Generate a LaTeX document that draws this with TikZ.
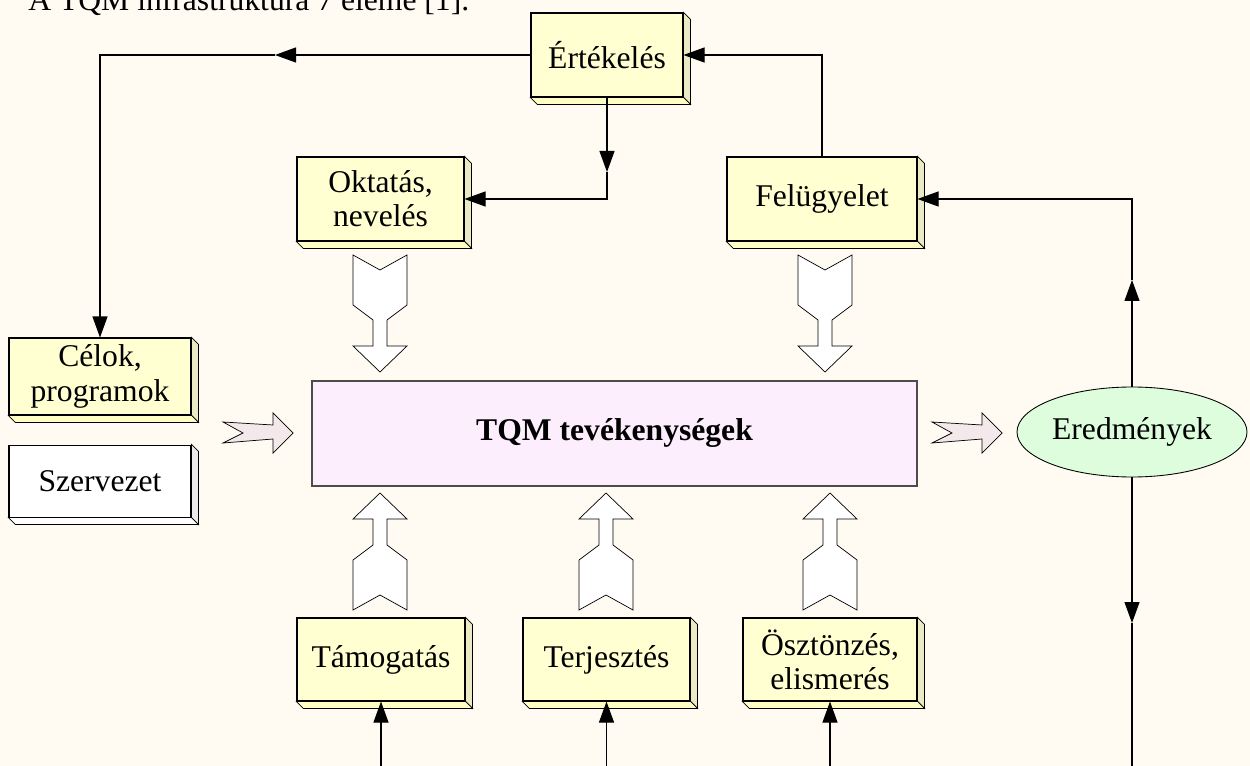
\documentclass[tikz,border=0pt]{standalone}
\usepackage{fontspec}
\setmainfont{Liberation Serif}
\usepackage{tikz}
\usetikzlibrary{positioning,calc,arrows.meta,shapes.geometric}

\newlength{\pxl}
\setlength{\pxl}{0.02cm}

\definecolor{bgcream}{HTML}{FFFAF2}
\definecolor{boxyellow}{HTML}{FFFFD2}
\definecolor{sideyellow}{HTML}{EAEAC4}
\definecolor{baseyellow}{HTML}{FFFFC4}
\definecolor{tqmpink}{HTML}{FCEEFC}
\definecolor{resgreen}{HTML}{DDFDDD}
\definecolor{chevpink}{HTML}{F3E9EA}

% side and bottom faces of a box node
\newcommand{\boxdepth}[3]{%
  \filldraw[fill=#2, draw=black, line width=0.4pt] (#1.north east) -- ++(7,7) -- ($(#1.south east)+(7,7)$) -- (#1.south east) -- cycle;
  \filldraw[fill=#3, draw=black, line width=0.4pt] (#1.south west) -- ++(7,7) -- ($(#1.south east)+(7,7)$) -- (#1.south east) -- cycle;}

% hollow arrow with a notched tail
\newcommand{\fatarrow}[3]{%
  \filldraw[fill=white, draw=black, line width=0.4pt, shift={(#1,#2)}, rotate=#3]
    (-27,0) -- (0,15) -- (27,0) -- (27,50) -- (7,65) -- (7,91) -- (27,91) -- (0,117)
    -- (-27,91) -- (-7,91) -- (-7,65) -- (-27,50) -- cycle;}

% flat arrow pointing right
\newcommand{\flatarrow}[2]{%
  \filldraw[fill=chevpink, draw=black, line width=0.4pt, shift={(#1,#2)}]
    (0,-11) -- (20,0) -- (0,10) -- (50,6) -- (50,20) -- (70,0) -- (50,-20) -- (50,-8) -- cycle;}

\begin{document}
\begin{tikzpicture}[x=0.02cm, y=-0.02cm]

\tikzstyle{every node}=[font=\fontsize{18}{19.5}\selectfont]
\tikzstyle{box}=[draw, fill=boxyellow, line width=0.6pt, inner sep=0pt, align=center]
\tikzstyle{line}=[line width=0.6pt]
\tikzstyle{tri}=[line width=0.6pt, -{Triangle[length=0.42cm, width=0.3cm]}]

\fill[bgcream] (0,0) rectangle (1250,766);
\useasboundingbox (0,0) rectangle (1250,766);

% title %
\node[anchor=base west, inner sep=0pt] (title) at (28,11) {A TQM infrastruktúra 7 eleme [1].};

% nodes %
\node[box, minimum width=152\pxl, minimum height=84\pxl] (ert) at (607,55) {Értékelés};
\node[box, minimum width=167\pxl, minimum height=84\pxl] (okt) at (380.5,199) {Oktatás,\\nevelés};
\node[box, minimum width=190\pxl, minimum height=84\pxl] (fel) at (822,199) {Felügyelet};
\node[box, minimum width=182\pxl, minimum height=77\pxl] (celok) at (100,376.5) {Célok,\\programok};
\node[box, fill=white, minimum width=182\pxl, minimum height=72\pxl, below=29\pxl of celok] (szerv) {Szervezet};
\node[draw=black!70, fill=tqmpink, line width=0.6pt, minimum width=605\pxl, minimum height=105\pxl] (tqm) at (614.5,433.5) {\textbf{TQM tevékenységek}};
\node[ellipse, draw, fill=resgreen, line width=0.5pt, inner sep=0pt, minimum width=230\pxl, minimum height=90\pxl] (eredm) at (1132,432) {Eredmények};
\node[box, minimum width=168\pxl, minimum height=83\pxl] (tam) at (381,659.5) {Támogatás};
\node[box, minimum width=167\pxl, minimum height=83\pxl] (terj) at (606.5,659.5) {Terjesztés};
\node[box, minimum width=174\pxl, minimum height=83\pxl] (oszt) at (830,659.5) {Ösztönzés,\\elismerés};

\boxdepth{ert}{sideyellow}{baseyellow}
\boxdepth{okt}{sideyellow}{baseyellow}
\boxdepth{fel}{sideyellow}{baseyellow}
\boxdepth{celok}{sideyellow}{baseyellow}
\boxdepth{szerv}{black!8}{white}
\boxdepth{tam}{sideyellow}{baseyellow}
\boxdepth{terj}{sideyellow}{baseyellow}
\boxdepth{oszt}{sideyellow}{baseyellow}

% big arrows %
\fatarrow{380}{255}{0}
\fatarrow{825}{255}{0}
\fatarrow{380}{610}{180}
\fatarrow{606}{610}{180}
\fatarrow{830}{610}{180}
\flatarrow{223}{433}
\flatarrow{932}{433}

% helper points %
\coordinate (bot) at (0,766);
\coordinate (m1) at (275,55);
\coordinate (m2) at (607,172);
\coordinate (m4) at (1132,280);
\coordinate (m5) at (1132,623);
\coordinate (c1) at (celok.north |- ert.west);
\coordinate (c2) at (fel.north |- ert.east);
\coordinate (c3) at (ert.south |- okt.east);
\coordinate (c4) at (eredm.north |- fel.east);

% edges %
\draw[tri] (ert.west) -- (m1);
\draw[tri] (m1) -- (c1) -- (celok.north);
\draw[tri] (fel.north) -- (c2) -- (ert.east);
\draw[tri] (ert.south) -- (m2);
\draw[tri] (m2) -- (c3) -- (okt.east);
\draw[tri] (eredm.north) -- (m4);
\draw[tri] (m4) -- (c4) -- (fel.east);
\draw[tri] (eredm.south) -- (m5);
\draw[line] (m5) -- (eredm.south |- bot);
\draw[tri] (tam.south |- bot) -- (tam.south);
\draw[tri] (terj.south |- bot) -- (terj.south);
\draw[tri] (oszt.south |- bot) -- (oszt.south);

\end{tikzpicture}
\end{document}
